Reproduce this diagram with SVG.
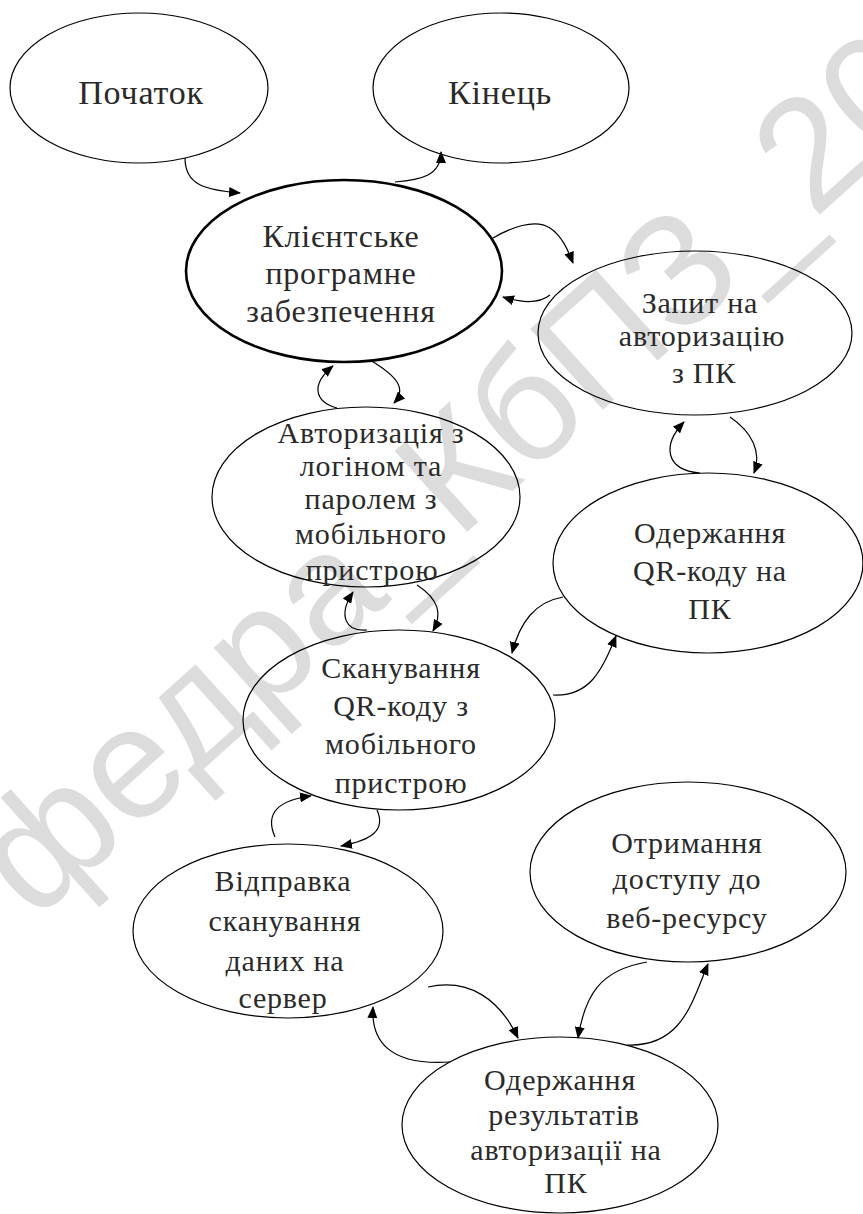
<svg xmlns="http://www.w3.org/2000/svg" width="863" height="1214" viewBox="0 0 863 1214">
<defs>
<marker id="ah" viewBox="0 0 12 10" refX="11" refY="5" markerWidth="12" markerHeight="10" markerUnits="userSpaceOnUse" orient="auto">
<path d="M0,0 L12,5 L0,10 Z" fill="#000"/>
</marker>
<style>
.n ellipse{fill:none;stroke:#000;stroke-width:1.2}
.n text{font-size:30px;fill:#2a2a2a;text-anchor:middle;letter-spacing:0.8px}
.big text{font-size:34px}
#conn path{fill:none;stroke:#000;stroke-width:1.2;marker-end:url(#ah)}
.wm{font-size:158px;fill:#dcdcdc}
</style>
</defs>
<rect width="863" height="1214" fill="#fff"/>
<text class="wm" font-family="Liberation Sans, Arial, sans-serif" transform="translate(34,922) rotate(-42)">федра_КбПЗ_20</text>

<g font-family="'Liberation Serif', 'Times New Roman', serif">
<g id="start" class="n big"><ellipse cx="139" cy="88" rx="129" ry="75"/><text x="141" y="104">Початок</text></g>
<g id="end" class="n big"><ellipse cx="501" cy="88" rx="128" ry="75"/><text x="500" y="104">Кінець</text></g>
<g id="client" class="n"><ellipse cx="344" cy="271" rx="158" ry="91" style="stroke-width:2.6"/>
<text x="341" y="247" style="font-size:32px">Клієнтське</text><text x="341" y="284" style="font-size:32px">програмне</text><text x="341" y="322" style="font-size:32px">забезпечення</text></g>
<g id="req" class="n"><ellipse cx="695" cy="333" rx="157" ry="82"/>
<text x="700" y="313">Запит на</text><text x="702" y="346">авторизацію</text><text x="704" y="383">з ПК</text></g>
<g id="login" class="n"><ellipse cx="366" cy="497" rx="154" ry="90"/>
<text x="371" y="443">Авторизація з</text><text x="371" y="476">логіном та</text><text x="371" y="509">паролем з</text><text x="371" y="544">мобільного</text><text x="372" y="580">пристрою</text></g>
<g id="qrpc" class="n"><ellipse cx="708" cy="563" rx="155" ry="90"/>
<text x="710" y="543">Одержання</text><text x="710" y="581">QR-коду на</text><text x="710" y="619">ПК</text></g>
<g id="scan" class="n"><ellipse cx="399" cy="720" rx="156" ry="90"/>
<text x="401" y="678">Сканування</text><text x="401" y="716">QR-коду з</text><text x="401" y="754">мобільного</text><text x="401" y="793">пристрою</text></g>
<g id="send" class="n"><ellipse cx="288" cy="931" rx="155" ry="87"/>
<text x="283" y="891">Відправка</text><text x="285" y="931">сканування</text><text x="285" y="971">даних на</text><text x="283" y="1008">сервер</text></g>
<g id="access" class="n"><ellipse cx="688" cy="872" rx="158" ry="90"/>
<text x="687" y="853">Отримання</text><text x="687" y="889">доступу до</text><text x="687" y="928">веб-ресурсу</text></g>
<g id="result" class="n"><ellipse cx="560" cy="1125" rx="158" ry="88"/>
<text x="560" y="1090">Одержання</text><text x="564" y="1125">результатів</text><text x="566" y="1160">авторизації на</text><text x="566" y="1193">ПК</text></g>
</g>

<g id="conn">
<path d="M185,158 C185,185 205,190 240,193"/>
<path d="M395,182 C420,180 441,176 441,152"/>
<path d="M493,238 C510,228 535,218 550,228 C562,236 568,250 573,263"/>
<path d="M550,295 C540,303 525,304 503,297"/>
<path d="M370,360 C395,375 408,388 394,403"/>
<path d="M337,408 C315,402 310,385 333,366"/>
<path d="M730,417 C752,432 762,452 754,473"/>
<path d="M700,473 C665,470 662,445 684,422"/>
<path d="M563,597 C535,602 520,622 512,653"/>
<path d="M553,695 C590,697 602,670 616,636"/>
<path d="M417,585 C440,600 442,615 433,631"/>
<path d="M367,630 C345,632 338,615 353,592"/>
<path d="M377,810 C386,830 372,840 341,846"/>
<path d="M275,837 C264,812 280,800 311,796"/>
<path d="M428,987 C470,978 500,1000 518,1038"/>
<path d="M450,1062 C388,1066 371,1040 373,1007"/>
<path d="M647,962 C600,970 585,995 578,1038"/>
<path d="M627,1045 C682,1047 692,1002 708,964"/>
</g>
</svg>
